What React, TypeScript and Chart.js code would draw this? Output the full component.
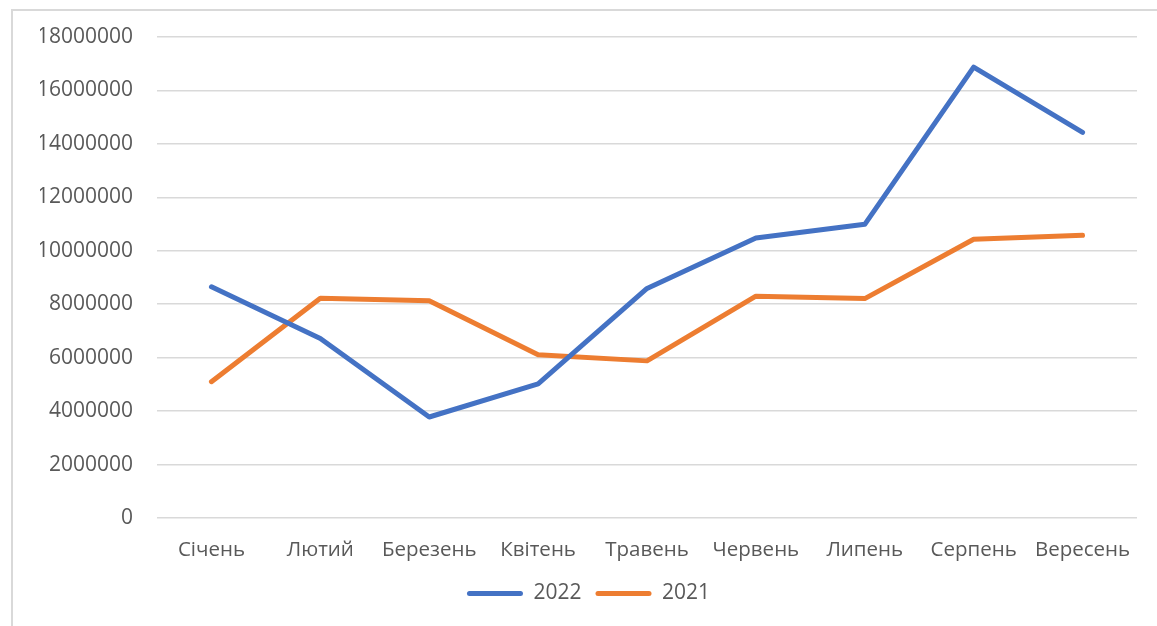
import React, { useEffect, useRef } from "react";
import { Chart, registerables } from "chart.js";

Chart.register(...registerables);

const categories = ["Січень", "Лютий", "Березень", "Квітень", "Травень", "Червень", "Липень", "Серпень", "Вересень"];
const series2022 = [8650000, 6720000, 3780000, 5020000, 8590000, 10480000, 10990000, 16870000, 14430000];
const series2021 = [5100000, 8220000, 8130000, 6110000, 5880000, 8300000, 8210000, 10430000, 10580000];
const seriesNames = ["2022", "2021"];
const seriesColors = ["#4472C4", "#ED7D31"];
const yMin = 0;
const yMax = 18000000;
const yStep = 2000000;

const FONT = "'Open Sans', 'Noto Sans', sans-serif";

export default function App() {
  const ref = useRef<HTMLCanvasElement | null>(null);

  useEffect(() => {
    if (!ref.current) return;
    const chart = new Chart(ref.current, {
      type: "line",
      data: {
        labels: categories,
        datasets: [
          {
            label: seriesNames[0],
            data: series2022,
            borderColor: seriesColors[0],
            backgroundColor: seriesColors[0],
            borderWidth: 5,
            borderCapStyle: "round",
            borderJoinStyle: "round",
            pointRadius: 0,
            tension: 0,
          },
          {
            label: seriesNames[1],
            data: series2021,
            borderColor: seriesColors[1],
            backgroundColor: seriesColors[1],
            borderWidth: 5,
            borderCapStyle: "round",
            borderJoinStyle: "round",
            pointRadius: 0,
            tension: 0,
          },
        ],
      },
      options: {
        animation: false,
        responsive: true,
        maintainAspectRatio: false,
        layout: { padding: { top: 37, left: 40, right: 20, bottom: 12 } },
        plugins: {
          tooltip: { enabled: false },
          legend: {
            position: "bottom",
            labels: {
              color: "#595959",
              font: { family: FONT, size: 21 },
              boxWidth: 56,
              boxHeight: 5,
              useBorderRadius: true,
              borderRadius: 2.5,
              padding: 14,
              generateLabels: (c: any) => {
                const items = Chart.defaults.plugins.legend.labels.generateLabels(c);
                return items.map((it: any, i: number) => ({
                  ...it,
                  fillStyle: seriesColors[i],
                  strokeStyle: seriesColors[i],
                  lineWidth: 0,
                  borderRadius: 2.5,
                }));
              },
            },
          },
        },
        scales: {
          x: {
            offset: true,
            grid: { display: false, drawTicks: false },
            border: { display: false },
            ticks: {
              color: "#595959",
              font: { family: FONT, size: 20.5 },
              padding: 20,
              maxRotation: 0,
              autoSkip: false,
            },
            afterFit: (s: any) => {
              s.height = 51;
            },
          },
          y: {
            min: yMin,
            max: yMax,
            grid: { color: "#d9d9d9", lineWidth: 1.5, drawTicks: false },
            border: { display: false },
            ticks: {
              stepSize: yStep,
              color: "#595959",
              font: { family: FONT, size: 21 },
              padding: 24,
              callback: (v: any) => String(v),
            },
            afterFit: (s: any) => {
              s.width = 117;
            },
          },
        },
      },
    });
    return () => chart.destroy();
  }, []);

  return (
    <div style={{ position: "fixed", left: 0, top: 0, width: 1157, height: 626, background: "#fff" }}>
      <div
        style={{
          position: "absolute",
          left: 11,
          top: 9,
          width: 1200,
          height: 700,
          borderTop: "2px solid #d9d9d9",
          borderLeft: "2px solid #d9d9d9",
          boxSizing: "border-box",
        }}
      />
      <div style={{ position: "absolute", left: 0, top: 0, width: 1157, height: 626 }}>
        <canvas ref={ref} />
      </div>
    </div>
  );
}
